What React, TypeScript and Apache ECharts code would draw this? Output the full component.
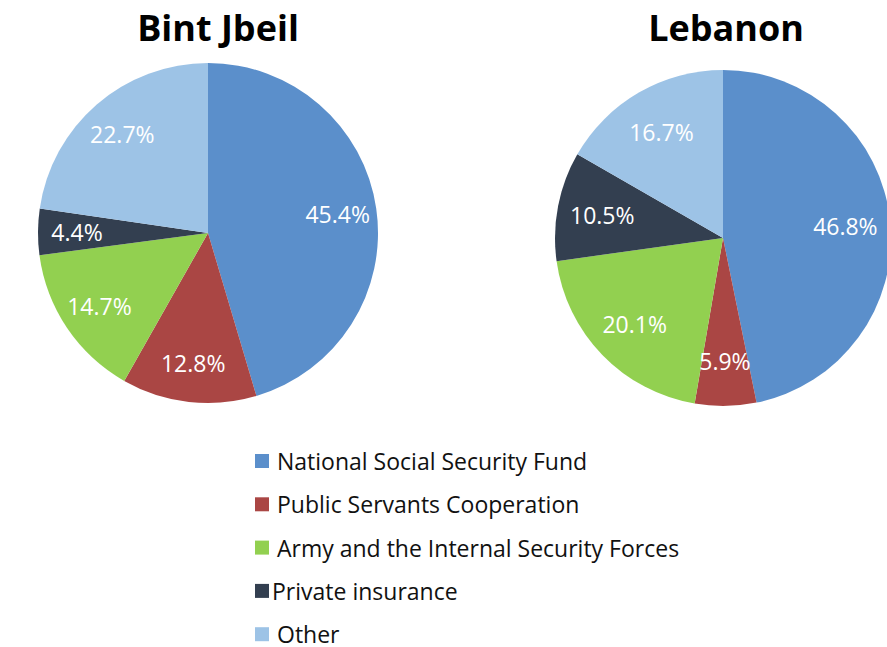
import React, { useEffect, useRef } from "react";
import * as echarts from "echarts";

const categories = [
  "National Social Security Fund",
  "Public Servants Cooperation",
  "Army and the Internal Security Forces",
  "Private insurance",
  "Other",
];
const bintJbeilValues = [45.4, 12.8, 14.7, 4.4, 22.7];
const lebanonValues = [46.8, 5.9, 20.1, 10.5, 16.7];
const chartTitles = ["Bint Jbeil", "Lebanon"];
const colors = ["#5B8FCB", "#AA4644", "#92D050", "#333F50", "#9DC3E6"];

const FONT = "Open Sans";

function mainSeries(values: number[], center: number[], r: number) {
  return {
    type: "pie",
    silent: true,
    startAngle: 90,
    clockwise: true,
    center,
    radius: [0, r],
    label: { show: false },
    labelLine: { show: false },
    itemStyle: { borderWidth: 0 },
    data: values.map((v, i) => ({ name: categories[i], value: v, itemStyle: { color: colors[i] } })),
  };
}

function labelSeries(values: number[], center: number[], r0: number, r: number) {
  return {
    type: "pie",
    silent: true,
    startAngle: 90,
    clockwise: true,
    center,
    radius: [r0, r],
    z: 5,
    legendHoverLink: false,
    itemStyle: { color: "rgba(0,0,0,0)", borderWidth: 0 },
    label: {
      show: true,
      position: "inside",
      color: "#ffffff",
      fontFamily: FONT,
      fontSize: 23,
      formatter: (p: any) => p.value.toFixed(1) + "%",
    },
    labelLine: { show: false },
    data: values.map((v, i) => ({ name: categories[i], value: v })),
  };
}

export default function App() {
  const ref = useRef<HTMLDivElement>(null);
  useEffect(() => {
    const chart = echarts.init(ref.current!, undefined, { renderer: "svg" });
    chart.setOption({
      animation: false,
      backgroundColor: "#ffffff",
      color: colors,
      title: [
        {
          text: chartTitles[0],
          left: 213,
          top: 4,
          textAlign: "center",
          textStyle: { fontFamily: FONT, fontWeight: "bold", fontSize: 36, color: "#000" },
        },
        {
          text: chartTitles[1],
          left: 721,
          top: 4,
          textAlign: "center",
          textStyle: { fontFamily: FONT, fontWeight: "bold", fontSize: 36, color: "#000" },
        },
      ],
      legend: {
        orient: "vertical",
        left: 250,
        top: 444,
        height: 203,
        itemWidth: 14,
        itemHeight: 14,
        itemGap: 19.3,
        icon: "rect",
        selectedMode: false,
        textStyle: { fontFamily: FONT, fontSize: 23, color: "#111", lineHeight: 24, padding: [0, 0, 0, 3] },
        data: categories.map((c, i) =>
          i === 3 ? { name: c, textStyle: { padding: [0, 0, 0, -2] } } : { name: c }
        ),
      },
      series: [
        mainSeries(bintJbeilValues, [208, 233], 170),
        labelSeries(bintJbeilValues, [208, 233], 86, 170),
        mainSeries(lebanonValues, [723, 238], 168),
        labelSeries(lebanonValues, [723, 238], 72, 168),
      ],
    });
    return () => chart.dispose();
  }, []);
  return (
    <div
      ref={ref}
      style={{ position: "fixed", left: 0, top: 0, width: 887, height: 647 }}
    />
  );
}
